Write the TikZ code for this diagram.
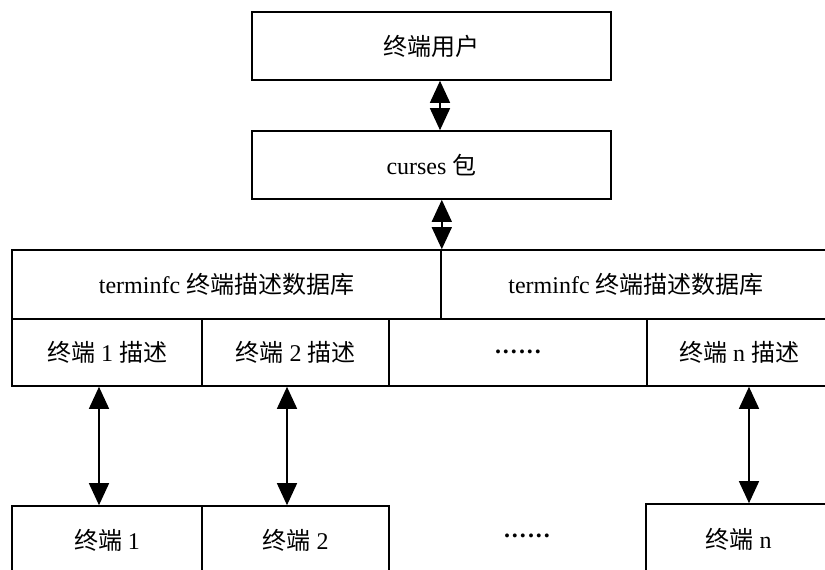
\documentclass[tikz,border=0pt]{standalone}
\usepackage{fontspec}
\setmainfont{Liberation Serif}
\newfontfamily\cjk{Noto Sans CJK SC}
\usetikzlibrary{arrows.meta}
\newcommand{\mydots}{\textbf{.\kern2pt.\kern2pt.\kern2pt.\kern2pt.\kern2pt.}}
\begin{document}
\begin{tikzpicture}[x=1pt,y=-1pt,
  box/.style={draw,line width=1.6pt,inner sep=0pt,font=\fontsize{24}{28}\selectfont},
  lbl/.style={inner sep=0pt,font=\fontsize{24}{28}\selectfont},
  dbl/.style={line width=1.4pt,{Triangle[width=20pt,length=22pt]}-{Triangle[width=20pt,length=22pt]}}]
\useasboundingbox (0,0) rectangle (825,570);
\clip (0,0) rectangle (825,570);
% top boxes
\node[box,minimum width=359pt,minimum height=68pt] (user) at (431.5,46) {\cjk 终端用户};
\node[box,minimum width=359pt,minimum height=68pt] (curses) at (431.5,165) {curses {\cjk 包}};
% database table
\node[box,minimum width=429pt,minimum height=69pt] (db1) at (226.5,284.5) {terminfc {\cjk 终端描述数据库}};
\node[box,minimum width=390pt,minimum height=69pt] (db2) at (636,284.5) {terminfc {\cjk 终端描述数据库}};
\node[box,minimum width=190pt,minimum height=67pt] (d1) at (107,352.5) {{\cjk 终端} 1 {\cjk 描述}};
\node[box,minimum width=187pt,minimum height=67pt] (d2) at (295.5,352.5) {{\cjk 终端} 2 {\cjk 描述}};
\node[box,minimum width=258pt,minimum height=67pt] (dd) at (518,352.5) {\raisebox{2pt}{\mydots}};
\node[box,minimum width=184pt,minimum height=67pt] (dn) at (739,352.5) {{\cjk 终端} n {\cjk 描述}};
% terminals
\node[box,minimum width=190pt,minimum height=70pt] (t1) at (107,541) {\raisebox{4pt}{{\cjk 终端} 1}};
\node[box,minimum width=187pt,minimum height=70pt] (t2) at (295.5,541) {\raisebox{4pt}{{\cjk 终端} 2}};
\node[lbl] (tdots) at (527,536) {\mydots};
\node[box,minimum width=185pt,minimum height=72pt] (tn) at (738.5,540) {\raisebox{4pt}{{\cjk 终端} n}};
% connectors
\draw[dbl] ([xshift=8.5pt]user.south) -- ([xshift=8.5pt]curses.north);
\draw[dbl] (curses.south -| db1.north east) -- (db1.north east);
\draw[dbl] ([xshift=-8pt]d1.south) -- ([xshift=-8pt]t1.north);
\draw[dbl] ([xshift=-8.5pt]d2.south) -- ([xshift=-8.5pt]t2.north);
\draw[dbl] ([xshift=10pt]dn.south) -- ([xshift=10.5pt]tn.north);
\end{tikzpicture}
\end{document}
